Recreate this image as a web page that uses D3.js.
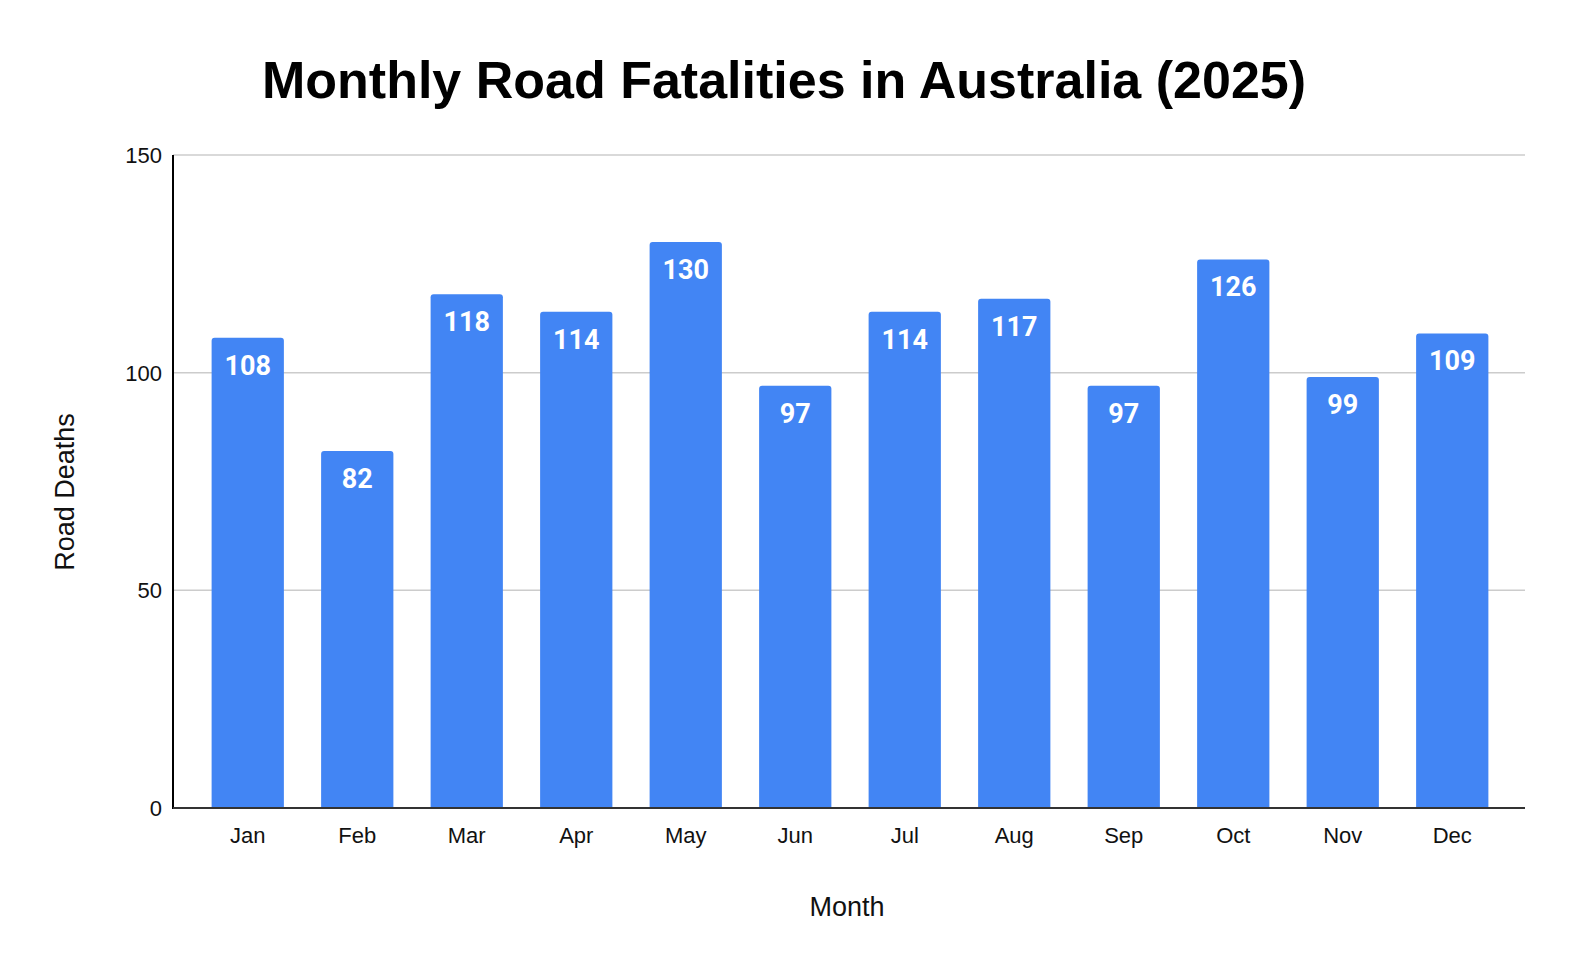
<!DOCTYPE html>
<html>
<head>
<meta charset="utf-8">
<script src="https://cdn.jsdelivr.net/npm/d3@7"></script>
<style>
  body { margin: 0; background: #fff; }
  text { font-family: "Liberation Sans", Arial, sans-serif; }
</style>
</head>
<body>
<div id="chart"></div>
<script>
var months = ["Jan", "Feb", "Mar", "Apr", "May", "Jun", "Jul", "Aug", "Sep", "Oct", "Nov", "Dec"];
var deaths = [108, 82, 118, 114, 130, 97, 114, 117, 97, 126, 99, 109];
var yTicks = [0, 50, 100, 150];

var width = 1574, height = 972;
var m = {left: 173, right: 49, top: 155, bottom: 164};

var svg = d3.select("#chart").append("svg")
    .attr("width", width).attr("height", height);

var x = d3.scaleBand().domain(months)
    .range([m.left + 20, width - m.right - 18])
    .paddingInner(0.34).paddingOuter(0.17);
var y = d3.scaleLinear().domain([0, 150]).range([height - m.bottom, m.top]);

// gridlines
svg.append("g").selectAll("line").data(yTicks.slice(1)).enter().append("line")
    .attr("x1", m.left).attr("x2", width - m.right)
    .attr("y1", function(d) { return y(d); }).attr("y2", function(d) { return y(d); })
    .attr("stroke", "#cccccc").attr("stroke-width", 1.5);

// y tick labels
svg.append("g").selectAll("text").data(yTicks).enter().append("text")
    .attr("x", m.left - 11).attr("y", function(d) { return y(d) + 8; })
    .attr("text-anchor", "end").attr("font-size", 22).attr("fill", "#111")
    .text(function(d) { return d; });

// bars with small rounded top corners
var r = 3;
function barPath(d, i) {
    var x0 = x(months[i]), w = x.bandwidth(), y0 = y(d), yb = y(0);
    return "M" + x0 + "," + yb + "V" + (y0 + r) + "Q" + x0 + "," + y0 + " " + (x0 + r) + "," + y0 +
        "H" + (x0 + w - r) + "Q" + (x0 + w) + "," + y0 + " " + (x0 + w) + "," + (y0 + r) + "V" + yb + "Z";
}
svg.append("g").selectAll("path").data(deaths).enter().append("path")
    .attr("d", barPath).attr("fill", "#4285f4");

// value labels
svg.append("g").selectAll("text").data(deaths).enter().append("text")
    .attr("x", function(d, i) { return x(months[i]) + x.bandwidth() / 2; })
    .attr("y", function(d) { return y(d) + 37; })
    .attr("text-anchor", "middle").attr("fill", "#fff")
    .style("font-family", "Roboto, sans-serif").attr("font-weight", "bold").attr("font-size", 27)
    .text(function(d) { return d; });

// axes lines
svg.append("line").attr("x1", m.left).attr("x2", m.left)
    .attr("y1", m.top).attr("y2", y(0) + 1).attr("stroke", "#000").attr("stroke-width", 2);
svg.append("line").attr("x1", m.left).attr("x2", width - m.right)
    .attr("y1", y(0)).attr("y2", y(0)).attr("stroke", "#333").attr("stroke-width", 2);

// month labels
svg.append("g").selectAll("text").data(months).enter().append("text")
    .attr("x", function(d) { return x(d) + x.bandwidth() / 2; })
    .attr("y", y(0) + 35)
    .attr("text-anchor", "middle").attr("font-size", 22).attr("fill", "#111")
    .text(function(d) { return d; });

// titles
svg.append("text").attr("x", 784).attr("y", 98).attr("text-anchor", "middle")
    .attr("font-size", 52).attr("font-weight", "bold").attr("fill", "#000")
    .text("Monthly Road Fatalities in Australia (2025)");
svg.append("text").attr("x", 847).attr("y", 916).attr("text-anchor", "middle")
    .attr("font-size", 27).attr("fill", "#111").text("Month");
svg.append("text").attr("transform", "translate(74,492) rotate(-90)").attr("text-anchor", "middle")
    .attr("font-size", 27).attr("fill", "#111").text("Road Deaths");
</script>
</body>
</html>
